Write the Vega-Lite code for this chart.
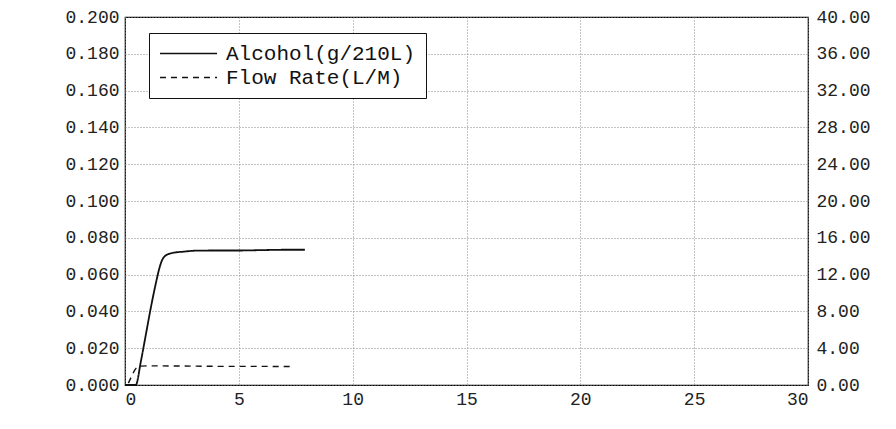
{
  "$schema": "https://vega.github.io/schema/vega-lite/v6.json",
  "autosize": {"type": "none"},
  "padding": {"left": 125, "top": 17, "right": 88, "bottom": 44},
  "width": 683,
  "height": 368,
  "background": "white",
  "config": {
    "view": {"stroke": "black", "strokeWidth": 1.2},
    "axis": {
      "labelFont": "Liberation Mono",
      "labelFontSize": 18,
      "labelColor": "#222",
      "ticks": false,
      "domain": false,
      "gridColor": "#888",
      "gridDash": [1, 2],
      "gridWidth": 1,
      "title": null
    },
    "legend": {
      "title": null,
      "orient": "none",
      "legendX": 24,
      "legendY": 16,
      "symbolType": "M-1,0H5",
      "symbolSize": 361,
      "symbolStrokeWidth": 1.6,
      "symbolStrokeColor": "#111",
      "labelFont": "Liberation Mono",
      "labelFontSize": 21,
      "labelColor": "#111",
      "labelLimit": 500,
      "labelOffset": 46,
      "strokeColor": "#111",
      "fillColor": "white",
      "padding": 10,
      "rowPadding": 2
    }
  },
  "data": {
    "values": [
      {"t": 0, "v": 0, "series": "Alcohol(g/210L)"},
      {"t": 0.47, "v": 0, "series": "Alcohol(g/210L)"},
      {"t": 0.7, "v": 0.013, "series": "Alcohol(g/210L)"},
      {"t": 0.91, "v": 0.027, "series": "Alcohol(g/210L)"},
      {"t": 1.15, "v": 0.043, "series": "Alcohol(g/210L)"},
      {"t": 1.35, "v": 0.055, "series": "Alcohol(g/210L)"},
      {"t": 1.5, "v": 0.063, "series": "Alcohol(g/210L)"},
      {"t": 1.6, "v": 0.067, "series": "Alcohol(g/210L)"},
      {"t": 1.8, "v": 0.0705, "series": "Alcohol(g/210L)"},
      {"t": 2.1, "v": 0.0718, "series": "Alcohol(g/210L)"},
      {"t": 2.6, "v": 0.0725, "series": "Alcohol(g/210L)"},
      {"t": 3.1, "v": 0.073, "series": "Alcohol(g/210L)"},
      {"t": 4, "v": 0.0731, "series": "Alcohol(g/210L)"},
      {"t": 5, "v": 0.0731, "series": "Alcohol(g/210L)"},
      {"t": 6, "v": 0.0733, "series": "Alcohol(g/210L)"},
      {"t": 7, "v": 0.0735, "series": "Alcohol(g/210L)"},
      {"t": 7.9, "v": 0.0735, "series": "Alcohol(g/210L)"},
      {"t": 0.15, "v": 0.2, "series": "Flow Rate(L/M)"},
      {"t": 0.3, "v": 1.0, "series": "Flow Rate(L/M)"},
      {"t": 0.45, "v": 1.7, "series": "Flow Rate(L/M)"},
      {"t": 0.65, "v": 2.05, "series": "Flow Rate(L/M)"},
      {"t": 1, "v": 2.08, "series": "Flow Rate(L/M)"},
      {"t": 2, "v": 2.07, "series": "Flow Rate(L/M)"},
      {"t": 3, "v": 2.05, "series": "Flow Rate(L/M)"},
      {"t": 4, "v": 2.03, "series": "Flow Rate(L/M)"},
      {"t": 5, "v": 2.02, "series": "Flow Rate(L/M)"},
      {"t": 6, "v": 2.02, "series": "Flow Rate(L/M)"},
      {"t": 7.45, "v": 2.0, "series": "Flow Rate(L/M)"}
    ]
  },
  "encoding": {
    "x": {
      "field": "t",
      "type": "quantitative",
      "scale": {"domain": [0, 30], "nice": false, "zero": false},
      "axis": {"values": [0, 5, 10, 15, 20, 25, 30], "labelPadding": 5, "grid": true}
    },
    "color": {
      "field": "series",
      "type": "nominal",
      "scale": {"domain": ["Alcohol(g/210L)", "Flow Rate(L/M)"], "range": ["#111", "#111"]}
    },
    "strokeDash": {
      "field": "series",
      "type": "nominal",
      "scale": {"domain": ["Alcohol(g/210L)", "Flow Rate(L/M)"], "range": [[1, 0], [6, 5]]}
    }
  },
  "layer": [
    {
      "transform": [{"filter": "datum.series == 'Alcohol(g/210L)'"}],
      "mark": {"type": "line", "strokeWidth": 1.8, "interpolate": "monotone"},
      "encoding": {
        "y": {
          "field": "v",
          "type": "quantitative",
          "scale": {"domain": [0, 0.2], "nice": false},
          "axis": {
            "orient": "left",
            "values": [0, 0.02, 0.04, 0.06, 0.08, 0.1, 0.12, 0.14, 0.16, 0.18, 0.2],
            "format": ".3f",
            "labelPadding": 6,
            "grid": true
          }
        }
      }
    },
    {
      "transform": [{"filter": "datum.series == 'Flow Rate(L/M)'"}],
      "mark": {"type": "line", "strokeWidth": 1.4, "interpolate": "monotone"},
      "encoding": {
        "y": {
          "field": "v",
          "type": "quantitative",
          "scale": {"domain": [0, 40], "nice": false},
          "axis": {
            "orient": "right",
            "values": [0, 4, 8, 12, 16, 20, 24, 28, 32, 36, 40],
            "format": ".2f",
            "labelPadding": 8,
            "grid": false
          }
        }
      }
    }
  ],
  "resolve": {"scale": {"y": "independent"}}
}
